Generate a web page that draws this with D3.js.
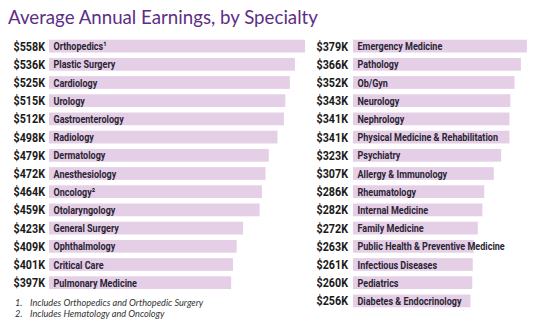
<!DOCTYPE html>
<html>
<head>
<meta charset="utf-8">
<script src="https://cdn.jsdelivr.net/npm/d3@7"></script>
<style>
  body { margin: 0; background: #fff; }
</style>
</head>
<body>
<script>
// data
const leftNames = ["Orthopedics¹", "Plastic Surgery", "Cardiology", "Urology", "Gastroenterology",
  "Radiology", "Dermatology", "Anesthesiology", "Oncology²", "Otolaryngology", "General Surgery",
  "Ophthalmology", "Critical Care", "Pulmonary Medicine"];
const leftValues = [558, 536, 525, 515, 512, 498, 479, 472, 464, 459, 423, 409, 401, 397];

const rightNames = ["Emergency Medicine", "Pathology", "Ob/Gyn", "Neurology", "Nephrology",
  "Physical Medicine & Rehabilitation", "Psychiatry", "Allergy & Immunology", "Rheumatology",
  "Internal Medicine", "Family Medicine", "Public Health & Preventive Medicine",
  "Infectious Diseases", "Pediatrics", "Diabetes & Endocrinology"];
const rightValues = [379, 366, 352, 343, 341, 341, 323, 307, 286, 282, 272, 263, 261, 260, 256];

const footnotes = ["Includes Orthopedics and Orthopedic Surgery", "Includes Hematology and Oncology"];

const width = 546;
const height = 333;
// no condensed face installed, so squeeze Roboto sideways
const bodyFont = "Roboto, 'Liberation Sans', sans-serif";

const svg = d3.select("body").append("svg")
  .attr("width", width)
  .attr("height", height);

svg.append("text")
  .attr("x", 8)
  .attr("y", 23.5)
  .attr("font-family", "Lato, 'Open Sans', sans-serif")
  .attr("font-size", 18.7)
  .attr("fill", "#5d2e86")
  .text("Average Annual Earnings, by Specialty");

// one length scale for both panels
const x = d3.scaleLinear().domain([0, 558]).range([0, 256]);

function panel(names, values, x0, labelX, top) {
  const y = d3.scaleBand()
    .domain(names)
    .range([top, top + names.length * 18.2])
    .paddingInner(0.3)
    .paddingOuter(0.15);

  const g = svg.append("g");
  const rows = g.selectAll("g")
    .data(names.map((n, i) => ({ name: n, value: values[i] })))
    .join("g");

  rows.append("rect")
    .attr("x", x0)
    .attr("y", d => y(d.name))
    .attr("width", d => x(d.value))
    .attr("height", y.bandwidth())
    .attr("fill", "#e4cfe6");

  rows.append("text")
    .attr("transform", d => `translate(${labelX},${y(d.name) + y.bandwidth() / 2}) scale(0.86,1)`)
    .attr("dy", "0.36em")
    .attr("text-anchor", "end")
    .attr("font-family", bodyFont)
    .attr("font-weight", "bold")
    .attr("font-size", 12.5)
    .attr("fill", "#1a1a1a")
    .text(d => "$" + d.value + "K");

  rows.append("text")
    .attr("transform", d => `translate(${x0 + 4.5},${y(d.name) + y.bandwidth() / 2}) scale(0.785,1)`)
    .attr("dy", "0.36em")
    .attr("font-family", bodyFont)
    .attr("font-weight", "bold")
    .attr("font-size", 11.5)
    .attr("fill", "#2b2433")
    .text(d => d.name);
}

panel(leftNames, leftValues, 49, 45, 37);
panel(rightNames, rightValues, 353, 348, 37);

// footnotes
const notes = svg.append("g")
  .selectAll("g")
  .data(footnotes)
  .join("g")
  .attr("transform", (d, i) => `translate(0, ${306 + i * 10.8})`);

notes.append("text")
  .attr("x", 15)
  .attr("font-family", "Lato, sans-serif")
  .attr("font-style", "italic")
  .attr("font-size", 9.2)
  .attr("fill", "#333")
  .text((d, i) => (i + 1) + ".");

notes.append("text")
  .attr("x", 30)
  .attr("font-family", "Lato, sans-serif")
  .attr("font-style", "italic")
  .attr("font-size", 9.2)
  .attr("fill", "#333")
  .text(d => d);
</script>
</body>
</html>
